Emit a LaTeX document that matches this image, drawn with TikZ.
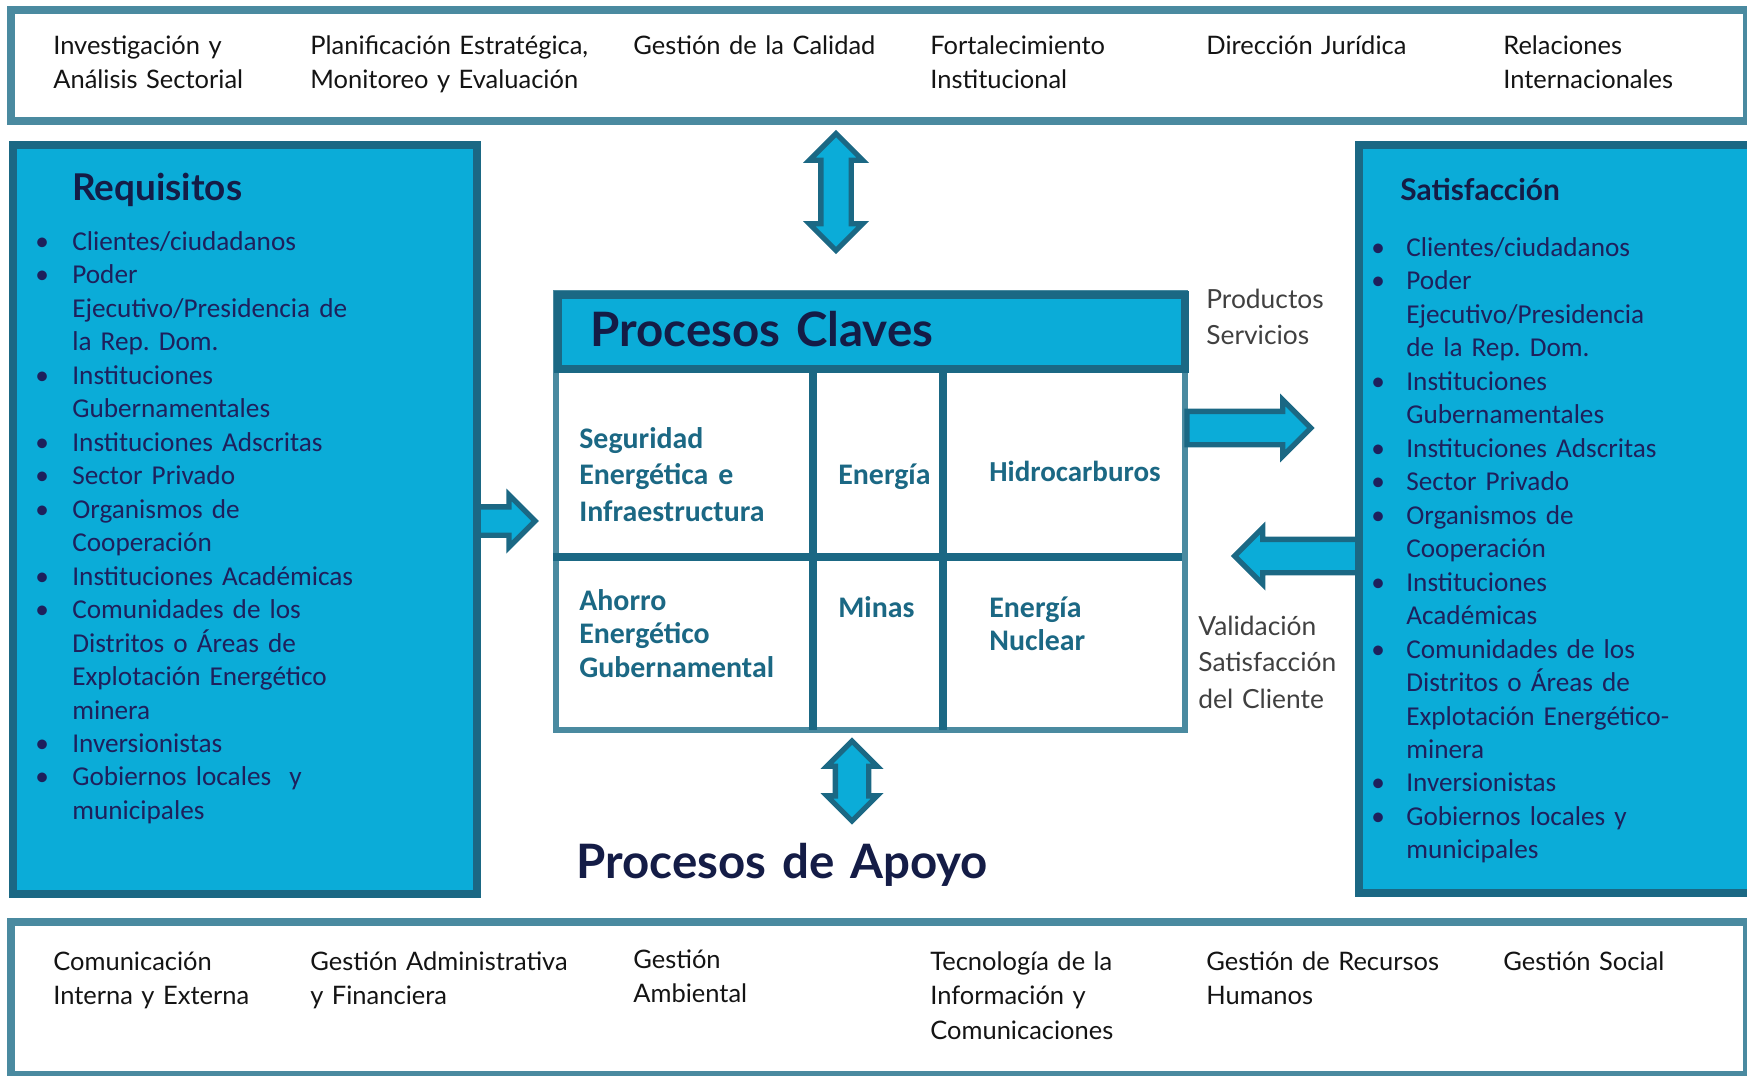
\documentclass[tikz,border=0pt]{standalone}
\usepackage{fontspec}
\usepackage{enumitem}
\usetikzlibrary{shapes.arrows,positioning}
\setmainfont{Carlito}
\newfontfamily\gillfont{Lato}
\definecolor{cyanfill}{RGB}{11,172,216}
\definecolor{edge}{RGB}{27,104,132}
\definecolor{boxline}{RGB}{74,138,160}
\definecolor{navy}{RGB}{30,32,92}
\definecolor{titleink}{RGB}{20,28,70}
\definecolor{cellink}{RGB}{27,104,132}
\definecolor{sideink}{RGB}{64,64,64}
\definecolor{bandink}{RGB}{20,20,20}
\newcommand{\bandfont}{\gillfont\fontsize{14.5}{19.8}\selectfont}
\newcommand{\sidefont}{\gillfont\fontsize{15}{20.6}\selectfont}
\newcommand{\listfont}{\fontsize{15.5}{19.05}\selectfont}
\newcommand{\cellfont}{\bfseries\fontsize{17}{21}\selectfont}
\newcommand{\bigtitlefont}{\gillfont\bfseries\fontsize{27}{32}\selectfont}
\setlist[itemize]{label=\textbullet,nosep,align=left,labelsep=0pt}
\frenchspacing

\begin{document}
\begin{tikzpicture}[x=0.02cm,y=-0.02cm,
    bandbox/.style={draw=boxline,line width=4.5pt,fill=white,inner sep=0pt,anchor=north west},
    panel/.style={bandbox,draw=edge,fill=cyanfill},
    txt/.style={anchor=base west,inner sep=0pt,align=left,text width=#1},
    txt/.default=9cm,
    bandtxt/.style={txt,font=\bandfont,text=bandink},
    sidetxt/.style={txt,font=\sidefont,text=sideink},
    celltxt/.style={txt=4cm,font=\cellfont,text=cellink},
    items/.style={txt=8cm,font=\listfont,text=navy},
    divider/.style={draw=edge,line width=4.5pt},
    flow/.style={single arrow,draw=edge,fill=cyanfill,line width=3pt,inner xsep=0pt,
      inner ysep=0.28cm,single arrow head extend=0.23cm,anchor=tail},
    twoway/.style={double arrow,draw=edge,fill=cyanfill,line width=3pt,inner xsep=0pt,
      inner ysep=0.25cm,double arrow head extend=0.23cm,rotate=90}]
  \useasboundingbox (0,0) rectangle (1747,1075);

  \node[bandbox,minimum width=34.72cm,minimum height=2.22cm] (topband) at (7,6) {};
  \node[bandbox,minimum width=34.72cm,minimum height=3.06cm] (botband) at (7,918) {};
  \node[panel,minimum width=9.28cm,minimum height=14.98cm] (req) at (9,141) {};
  \node[panel,minimum width=8.1cm,minimum height=14.96cm] (sat) at (1355,141) {};

  \node[bandbox,line width=3.4pt,minimum width=12.58cm,minimum height=8.74cm] (pbody) at (553,290) {};
  \draw[divider] (813,365) -- (813,730);
  \draw[divider] (943,365) -- (943,730);
  \draw[divider] (553,557) -- (1182,557);
  \node[panel,minimum width=12.54cm,minimum height=1.48cm] (phead) at (554,291) {};

  \node[bandtxt] (inv) at (53,54) {Investigación y\\Análisis Sectorial};
  \node[bandtxt] (plan) at (310,54) {Planificación Estratégica,\\Monitoreo y Evaluación};
  \node[bandtxt] (calidad) at (633,54) {Gestión de la Calidad};
  \node[bandtxt] (fort) at (930,54) {Fortalecimiento\\Institucional};
  \node[bandtxt] (juridica) at (1206,54) {Dirección Jurídica};
  \node[bandtxt] (rel) at (1503,54) {Relaciones\\Internacionales};

  \node[bandtxt] (com) at (53,970) {Comunicación\\Interna y Externa};
  \node[bandtxt] (admin) at (310,970) {Gestión Administrativa\\y Financiera};
  \node[bandtxt] (amb) at (633,968) {Gestión\\Ambiental};
  \node[bandtxt] (tic) at (930,970) {Tecnología de la\\Información y\\Comunicaciones};
  \node[bandtxt] (rrhh) at (1206,970) {Gestión de Recursos\\Humanos};
  \node[bandtxt] (social) at (1503,970) {Gestión Social};

  \node[txt,font=\gillfont\bfseries\fontsize{21}{25}\selectfont,text=titleink] (reqtitle) at (72,200) {Requisitos};
  \node[items] (reqitems) at (35,217) {\begin{itemize}[leftmargin=0.74cm,labelwidth=0.74cm]
    \item Clientes/ciudadanos
    \item Poder\\Ejecutivo/Presidencia de\\la Rep. Dom.
    \item Instituciones\\Gubernamentales
    \item Instituciones Adscritas
    \item Sector Privado
    \item Organismos de\\Cooperación
    \item Instituciones Académicas
    \item Comunidades de los\\Distritos o Áreas de\\Explotación Energético\\minera
    \item Inversionistas
    \item Gobiernos locales\ \ y\\municipales
  \end{itemize}};

  \node[txt,font=\gillfont\bfseries\fontsize{17}{21}\selectfont,text=titleink] (sattitle) at (1400,200) {Satisfacción};
  \node[items] (satitems) at (1371,223) {\begin{itemize}[leftmargin=0.7cm,labelwidth=0.7cm]
    \item Clientes/ciudadanos
    \item Poder\\Ejecutivo/Presidencia\\de la Rep. Dom.
    \item Instituciones\\Gubernamentales
    \item Instituciones Adscritas
    \item Sector Privado
    \item Organismos de\\Cooperación
    \item Instituciones\\Académicas
    \item Comunidades de los\\Distritos o Áreas de\\Explotación Energético-\\minera
    \item Inversionistas
    \item Gobiernos locales y\\municipales
  \end{itemize}};

  \node[txt,font=\bigtitlefont,text=titleink] (claves) at (590,346) {Procesos Claves};
  \node[celltxt] (seg) at (579,448) {Seguridad\\Energética e\\Infraestructura};
  \node[celltxt] (energia) at (838,484) {Energía};
  \node[celltxt,font=\bfseries\fontsize{16.5}{21}\selectfont] (hidro) at (989,481) {Hidrocarburos};
  \node[celltxt,font=\bfseries\fontsize{17}{19.3}\selectfont] (ahorro) at (579,610) {Ahorro\\Energético\\Gubernamental};
  \node[celltxt] (minas) at (838,617) {Minas};
  \node[celltxt,font=\bfseries\fontsize{17}{19.3}\selectfont] (nuclear) at (989,617) {Energía\\Nuclear};
  \node[txt,font=\bigtitlefont,text=titleink] (apoyo) at (576,878) {Procesos de Apoyo};

  \node[sidetxt] (prod) at (1206,308) {Productos\\Servicios};
  \node[sidetxt,font=\gillfont\fontsize{15}{21}\selectfont] (valid) at (1198,635) {Validación\\Satisfacción\\del Cliente};

  \node[twoway,minimum height=2.34cm] (upflow) at (836,192) {};
  \node[twoway,minimum height=1.6cm,inner ysep=0.28cm,double arrow head extend=0.17cm] (downflow) at (852,781) {};
  \node[flow,minimum height=1.14cm,inner ysep=0.23cm,single arrow head extend=0.24cm] (reqflow) at ([xshift=-3pt]req.east |- 0,521) {};
  \node[flow,minimum height=2.48cm] (outflow) at ([xshift=-2pt]pbody.east |- 0,428) {};
  \node[flow,minimum height=2.46cm,rotate=180] (inflow) at ([xshift=3pt]sat.west |- 0,556) {};
\end{tikzpicture}
\end{document}
